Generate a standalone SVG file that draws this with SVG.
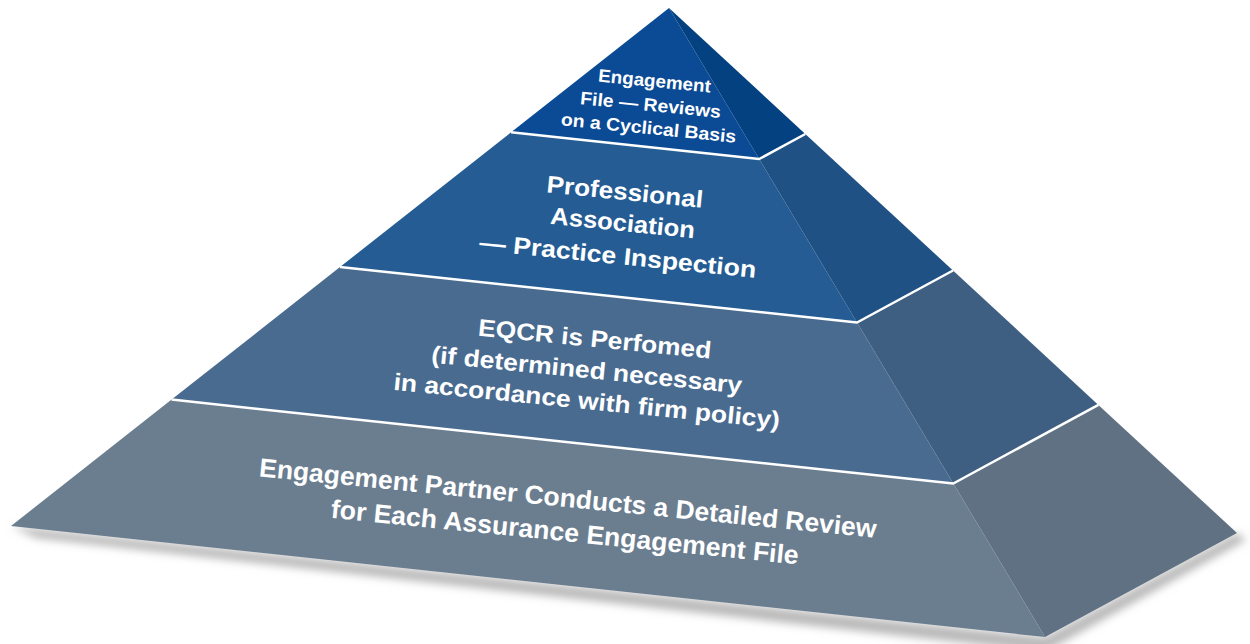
<svg xmlns="http://www.w3.org/2000/svg" width="1250" height="644" viewBox="0 0 1250 644">
  <defs>
    <filter id="blur" x="-10%" y="-50%" width="120%" height="200%">
      <feGaussianBlur stdDeviation="4"/>
    </filter>
  </defs>
  <style>
    text { font-family: "Liberation Sans", Arial, sans-serif; font-weight: bold; fill: #ffffff; text-anchor: middle; }
    .t1 { font-size: 18px; }
    .t2 { font-size: 24px; }
    .t3 { font-size: 24px; }
    .t4 { font-size: 26px; }
    .sep { fill: none; stroke: #ffffff; stroke-width: 2.5; stroke-linejoin: round; }
  </style>
  <rect width="1250" height="644" fill="#ffffff"/>

  <!-- shadow -->
  <polygon points="11,526 1045,637 1237,533 1246,540 1045,652 36,538" fill="#b8b8b8" filter="url(#blur)"/>

  <!-- tier 4 (bottom) -->
  <g id="tier4">
    <polygon points="171.6,399.6 11,526 1045,637 953.3,483.5" fill="#6b7e90"/>
    <polygon points="953.3,483.5 1045,637 1237,533 1098.4,404.9" fill="#5f7183"/>
    <text class="t4" transform="translate(567,507) rotate(5.7)" textLength="620" lengthAdjust="spacingAndGlyphs">Engagement Partner Conducts a Detailed Review</text>
    <text class="t4" transform="translate(564,541) rotate(5.7)" textLength="470" lengthAdjust="spacingAndGlyphs">for Each Assurance Engagement File</text>
  </g>

  <!-- tier 3 -->
  <g id="tier3">
    <polygon points="340,267 171.6,399.6 953.3,483.5 857,322.5" fill="#4a6b90"/>
    <polygon points="857,322.5 953.3,483.5 1098.4,404.9 953,270.5" fill="#3f5f82"/>
    <text class="t3" transform="translate(594,347) rotate(5.7)" textLength="234" lengthAdjust="spacingAndGlyphs">EQCR is Perfomed</text>
    <text class="t3" transform="translate(586,378) rotate(5.7)" textLength="312" lengthAdjust="spacingAndGlyphs">(if determined necessary</text>
    <text class="t3" transform="translate(586,409) rotate(5.7)" textLength="388" lengthAdjust="spacingAndGlyphs">in accordance with firm policy)</text>
  </g>

  <!-- tier 2 -->
  <g id="tier2">
    <polygon points="511.1,132.3 340,267 857,322.5 759.2,159" fill="#245c93"/>
    <polygon points="759.2,159 857,322.5 953,270.5 805.3,134" fill="#1f5184"/>
    <text class="t2" transform="translate(624,200) rotate(5.7)" textLength="157" lengthAdjust="spacingAndGlyphs">Professional</text>
    <text class="t2" transform="translate(622,231) rotate(5.7)" textLength="145" lengthAdjust="spacingAndGlyphs">Association</text>
    <text class="t2" transform="translate(617,264) rotate(5.7)" textLength="278" lengthAdjust="spacingAndGlyphs">— Practice Inspection</text>
  </g>

  <!-- tier 1 (top) -->
  <g id="tier1">
    <polygon points="669,8 511.1,132.3 759.2,159" fill="#0b4a94"/>
    <polygon points="669,8 759.2,159 805.3,134" fill="#034181"/>
    <text class="t1" transform="translate(654,87) rotate(5.7)" textLength="113" lengthAdjust="spacingAndGlyphs">Engagement</text>
    <text class="t1" transform="translate(650,111) rotate(5.7)" textLength="141" lengthAdjust="spacingAndGlyphs">File — Reviews</text>
    <text class="t1" transform="translate(648,134) rotate(5.7)" textLength="176" lengthAdjust="spacingAndGlyphs">on a Cyclical Basis</text>
  </g>

  <!-- separators -->
  <g id="connectors">
    <polyline class="sep" points="511.1,132.3 759.2,159 805.3,134"/>
    <polyline class="sep" points="340,267 857,322.5 953,270.5"/>
    <polyline class="sep" points="171.6,399.6 953.3,483.5 1098.4,404.9"/>
  </g>
</svg>
